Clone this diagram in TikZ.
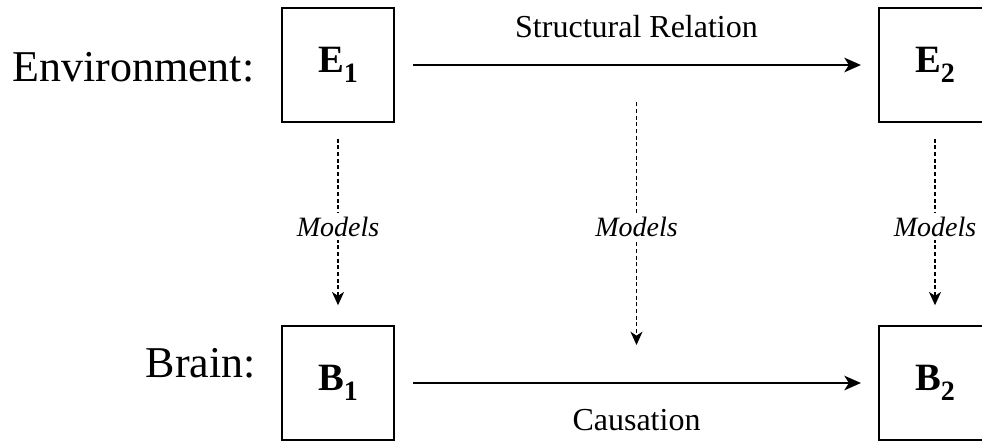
\documentclass[tikz,border=0pt]{standalone}
\usepackage{fontspec}
\setmainfont{Liberation Serif}
\usetikzlibrary{positioning, arrows.meta}
\tikzset{
  entity/.style    ={rectangle, draw=black, line width=1.1pt, minimum width=84pt, minimum height=85.5pt,
                     inner sep=0pt, font=\fontsize{29}{29}\selectfont\bfseries},
  rowlabel/.style  ={font=\fontsize{33}{33}\selectfont, inner sep=0pt},
  rellabel/.style  ={font=\fontsize{24}{24}\selectfont, inner sep=0pt},
  modellabel/.style={font=\fontsize{21}{21}\selectfont\itshape, fill=white, inner sep=3pt},
  arr/.style       ={-{Stealth[length=12.5pt, width=11pt, inset=3.5pt]}, line width=1.2pt},
  modelarr/.style  ={-{Stealth[length=10pt, width=9pt, inset=3pt]}, line width=1.3pt, dash pattern=on 3pt off 2pt},
}
\newcommand{\entname}[2]{#1\raisebox{-7.5pt}{\fontsize{21}{21}\selectfont #2}}

\begin{document}
\begin{tikzpicture}[x=0.75pt, y=-0.75pt]
\path[use as bounding box, fill=white] (0,0) rectangle (982,440);

% entities
\node[entity] (E1) at (338,65)  {\entname{E}{1}};
\node[entity] (E2) at (935,65)  {\entname{E}{2}};
\node[entity] (B1) at (338,383) {\entname{B}{1}};
\node[entity] (B2) at (935,383) {\entname{B}{2}};

\node[rowlabel, left=20pt of E1, yshift=-2pt] (env)   {Environment:};
\node[rowlabel, left=19pt of B1, yshift=15pt] (brain) {Brain:};

% relations
\draw[arr, shorten <=14pt, shorten >=13pt] (E1) -- (E2) coordinate[midway] (relmid)
  node[rellabel, midway, above=20pt] (rel) {Structural Relation};
\draw[arr, shorten <=14pt, shorten >=13pt] (B1) -- (B2) coordinate[midway] (causmid)
  node[rellabel, midway, below=19pt] (caus) {Causation};

% models
\draw[modelarr, shorten <=12pt, shorten >=15pt] (E1) -- (B1) node[modellabel, pos=0.512] (m1) {Models};
\draw[modelarr, shorten <=28pt, shorten >=28.5pt] (relmid) -- (causmid) node[modellabel, pos=0.508] (m2) {Models};
\draw[modelarr, shorten <=12pt, shorten >=15pt] (E2) -- (B2) node[modellabel, pos=0.512] (m3) {Models};
\end{tikzpicture}
\end{document}
